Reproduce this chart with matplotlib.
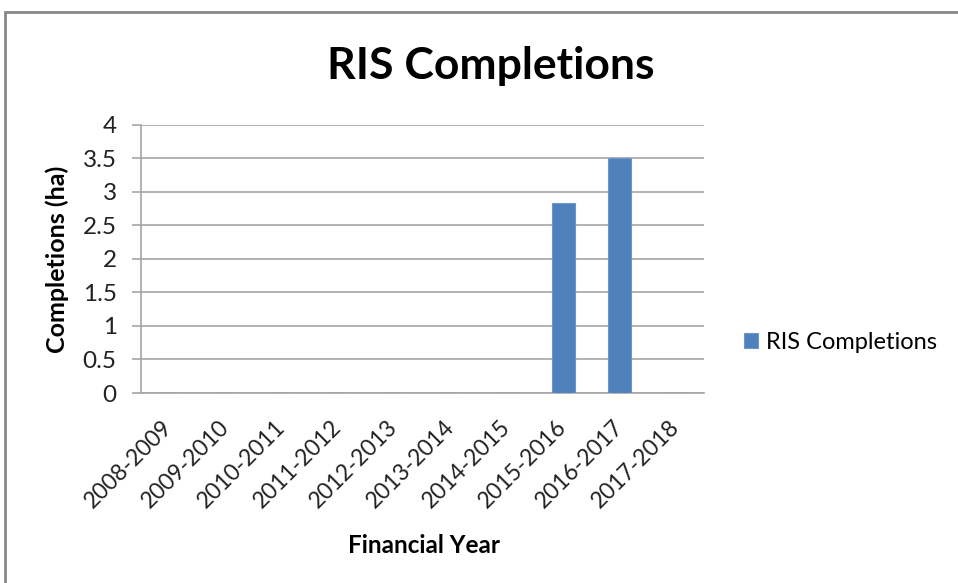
import matplotlib.pyplot as plt
from matplotlib.patches import Rectangle

years = ["2008-2009", "2009-2010", "2010-2011", "2011-2012", "2012-2013",
         "2013-2014", "2014-2015", "2015-2016", "2016-2017", "2017-2018"]
completions = [0, 0, 0, 0, 0, 0, 0, 2.83, 3.5, 0]
yticks = [0, 0.5, 1, 1.5, 2, 2.5, 3, 3.5, 4]
ytick_labels = ["0", "0.5", "1", "1.5", "2", "2.5", "3", "3.5", "4"]

BLUE = "#4f81bd"
GREY = "#a6a6a6"

plt.rcParams["font.family"] = ["Lato", "DejaVu Sans"]

fig = plt.figure(figsize=(9.58, 5.83), dpi=100)
ax = fig.add_axes([0.1472, 0.3259, 0.7349 - 0.1472, 0.7856 - 0.3259])

x = list(range(len(years)))
ax.bar(x, completions, width=0.41, color=BLUE, edgecolor="#6f96c8", linewidth=0.8,
       label="RIS Completions", zorder=3)

ax.set_xlim(-0.5, len(years) - 0.5)
ax.set_ylim(0, 4)
ax.set_yticks(yticks)
ax.set_yticklabels(ytick_labels, fontsize=17.5, color="#222222")
ax.set_xticks(x)
ax.set_xticklabels(years, rotation=45, ha="right", va="center",
                   rotation_mode="anchor", fontsize=16.5, color="#222222")

ax.grid(axis="y", color=GREY, linewidth=1.2, zorder=0)
for side in ["top", "right"]:
    ax.spines[side].set_visible(False)
ax.spines["left"].set_color(GREY)
ax.spines["bottom"].set_color(GREY)
ax.spines["left"].set_linewidth(1.2)
ax.spines["bottom"].set_linewidth(1.2)
ax.tick_params(axis="y", length=6.5, color=GREY, width=1.2, pad=11)
ax.tick_params(axis="x", length=0, pad=22)

ax.set_ylabel("Completions (ha)", fontsize=18, fontweight="bold")
ax.yaxis.set_label_coords(-0.128, 0.5)
ax.set_xlabel("Financial Year", fontsize=17.5, fontweight="bold")
ax.xaxis.set_label_coords(0.502, -0.525)

fig.text(0.512, 0.886, "RIS Completions", fontsize=32, fontweight="bold",
         ha="center", va="center")

ax.legend(loc="center left", bbox_to_anchor=(1.033, 0.19), frameon=False,
          fontsize=17, handlelength=0.6, handleheight=0.6, handletextpad=0.35)

# outer chart frame, partly cut off at the right and bottom
fig.patches.append(Rectangle((5 / 958, -0.05), 1.2, 1 - 12 / 583 + 0.05,
                             transform=fig.transFigure, fill=False,
                             edgecolor="#888888", linewidth=2))

fig.savefig("out.png", dpi=100)
